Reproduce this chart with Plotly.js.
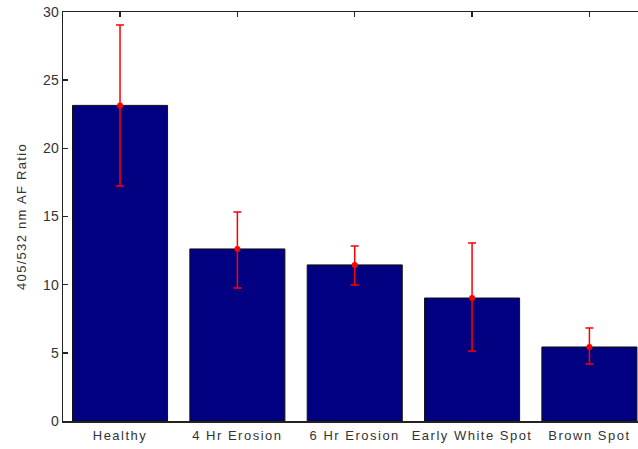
<!DOCTYPE html>
<html>
<head>
<meta charset="utf-8">
<script src="https://cdn.plot.ly/plotly-3.0.1.min.js"></script>
<style>
html,body{margin:0;padding:0;background:#fff;}
#chart{width:638px;height:449px;}
#chart .xtick text{letter-spacing:1.5px;}
#chart .ytitle{letter-spacing:1.3px;}
</style>
</head>
<body>
<div id="chart"></div>
<script>
var categories = ["Healthy", "4 Hr Erosion", "6 Hr Erosion", "Early White Spot", "Brown Spot"];
var means = [23.15, 12.62, 11.45, 9.02, 5.43];
var errUpper = [5.9, 2.71, 1.39, 4.04, 1.39];
var errLower = [5.91, 2.86, 1.47, 3.88, 1.25];
var yTicks = [0, 5, 10, 15, 20, 25, 30];

var bars = {
  type: "bar",
  x: categories,
  y: means,
  width: 0.81,
  marker: {color: "#000080", line: {color: "#111111", width: 1}},
  hoverinfo: "skip"
};
var errs = {
  type: "scatter",
  mode: "markers",
  x: categories,
  y: means,
  marker: {color: "#ff0000", size: 6},
  error_y: {type: "data", symmetric: false, array: errUpper, arrayminus: errLower,
            color: "#ff0000", thickness: 1.5, width: 4}
};
var layout = {
  width: 638, height: 449,
  margin: {l: 63, r: 0, t: 12, b: 28},
  paper_bgcolor: "#fff", plot_bgcolor: "#fff",
  showlegend: false,
  bargap: 0,
  font: {family: "Liberation Sans, Arial, sans-serif", color: "#333", size: 12},
  xaxis: {
    type: "category",
    range: [-0.486, 4.414],
    showline: true, linecolor: "#222", linewidth: 1.5, mirror: "ticks",
    ticks: "inside", ticklen: 5, tickcolor: "#222", tickwidth: 1.5,
    showgrid: false, zeroline: false,
    ticklabelstandoff: 2,
    tickfont: {size: 13, color: "#333"},
    layer: "below traces"
  },
  yaxis: {
    range: [0, 30],
    tickvals: yTicks,
    showline: true, linecolor: "#222", linewidth: 1.5, mirror: true,
    ticks: "inside", ticklen: 5, tickcolor: "#222", tickwidth: 1.5,
    showgrid: false, zeroline: false,
    tickfont: {size: 14, color: "#333"},
    title: {text: "405/532 nm AF Ratio", font: {size: 13, color: "#333"}, standoff: 13}
  }
};
Plotly.newPlot("chart", [bars, errs], layout, {displayModeBar: false, staticPlot: true});
</script>
</body>
</html>
